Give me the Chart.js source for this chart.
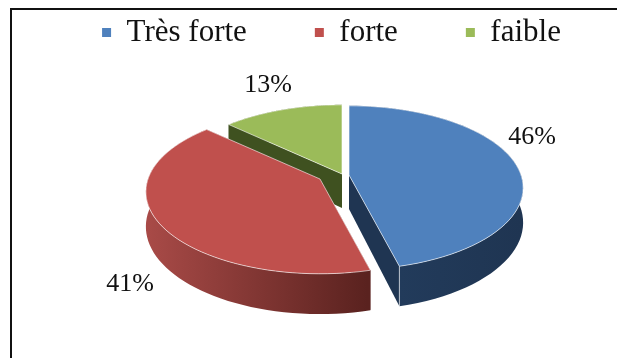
<!DOCTYPE html>
<html>
<head>
<meta charset="utf-8">
<script src="https://cdn.jsdelivr.net/npm/chart.js@4/dist/chart.umd.js"></script>
<style>
html, body { margin: 0; padding: 0; background: #fff; }
#wrap { width: 617px; height: 358px; }
</style>
</head>
<body>
<div id="wrap"><canvas id="camembert" width="617" height="358"></canvas></div>
<script>
var categories = ['Très forte', 'forte', 'faible'];
var valeurs = [46, 41, 13];
var couleurs = ['#4f81bd', '#c0504d', '#9bbb59'];

//Reglages de la vue 3D
var vue = {
    rayon: 172, aplati: 80, fuite: 0.156, epaisseur: 34,
    sommets: [{ x: 349, y: 175 }, { x: 320, y: 179 }, { x: 342, y: 174 }],
    flancs: [['#223b5b', '#1f3552'], ['#a84a47', '#5a221f'], ['#3f5120', '#3f5120']],
    tranches: ['#1f3552', '#5a221f', '#3f5120'],
    ordre: [2, 0, 1],
    etiquettes: [{ x: 532, y: 137 }, { x: 130, y: 284 }, { x: 268, y: 85 }]
};

function projeterBas(s, a) {
    var u = Math.cos(a), v = Math.sin(a);
    var p = 1 / (1 - vue.fuite * v);
    return { x: s.x + vue.rayon * u * p, y: s.y + vue.aplati * v * p + vue.epaisseur * p };
}
function projeterHaut(s, a) {
    var u = Math.cos(a), v = Math.sin(a);
    var p = 1 / (1 - vue.fuite * v);
    return { x: s.x + vue.rayon * u * p, y: s.y + vue.aplati * v * p };
}

function bord(ctx, s, a0, a1, fn) {
    var n = 60;
    for (var i = 0; i <= n; i++) {
        var q = fn(s, a0 + (a1 - a0) * i / n);
        ctx.lineTo(q.x, q.y);
    }
}

var camembert3d = {
    id: 'camembert3d',
    afterLayout: function (chart) {
        //la legende est decalee vers la droite et remontee
        chart.legend.left += 23;
        chart.legend.right += 23;
        chart.legend.top -= 51;
        chart.legend.bottom -= 51;
    },
    beforeDraw: function (chart) {
        var ctx = chart.ctx;
        ctx.save();
        ctx.strokeStyle = '#111';
        ctx.lineWidth = 2;
        ctx.beginPath();
        ctx.moveTo(11, 358);
        ctx.lineTo(11, 9);
        ctx.lineTo(617, 9);
        ctx.stroke();
        ctx.restore();
    },
    beforeDatasetDraw: function (chart) {
        var ctx = chart.ctx;
        var arcs = chart.getDatasetMeta(0).data;
        ctx.save();
        vue.ordre.forEach(function (i) {
            var a0 = arcs[i].startAngle, a1 = arcs[i].endAngle, s = vue.sommets[i];
            var h0 = projeterHaut(s, a0), h1 = projeterHaut(s, a1);
            var b0 = projeterBas(s, a0), b1 = projeterBas(s, a1);

            //faces de coupe
            ctx.fillStyle = vue.tranches[i];
            [[h0, b0], [h1, b1]].forEach(function (f) {
                ctx.beginPath();
                ctx.moveTo(s.x, s.y);
                ctx.lineTo(f[0].x, f[0].y);
                ctx.lineTo(f[1].x, f[1].y);
                ctx.lineTo(s.x, s.y + vue.epaisseur);
                ctx.closePath();
                ctx.fill();
            });

            //flanc exterieur
            var g = ctx.createLinearGradient(s.x - vue.rayon, 0, s.x + 47, 0);
            if (i === 0) {
                g = ctx.createLinearGradient(s.x + 50, 0, s.x + vue.rayon, 0);
            }
            g.addColorStop(0, vue.flancs[i][0]);
            g.addColorStop(1, vue.flancs[i][1]);
            ctx.fillStyle = g;
            ctx.beginPath();
            bord(ctx, s, a0, a1, projeterHaut);
            bord(ctx, s, a1, a0, projeterBas);
            ctx.closePath();
            ctx.fill();

            //face du dessus
            ctx.fillStyle = arcs[i].options.backgroundColor;
            ctx.strokeStyle = 'rgba(255,255,255,0.6)';
            ctx.lineWidth = 1;
            ctx.beginPath();
            ctx.moveTo(s.x, s.y);
            bord(ctx, s, a0, a1, projeterHaut);
            ctx.closePath();
            ctx.fill();
            ctx.stroke();

            if (i === 0) {
                ctx.beginPath();
                ctx.moveTo(h1.x, h1.y);
                ctx.lineTo(b1.x, b1.y);
                ctx.stroke();
            }
        });
        ctx.restore();
        return false;
    },
    afterDatasetsDraw: function (chart) {
        var ctx = chart.ctx;
        ctx.save();
        ctx.font = '26px "Liberation Serif"';
        ctx.fillStyle = '#111';
        ctx.textAlign = 'center';
        ctx.textBaseline = 'middle';
        valeurs.forEach(function (v, i) {
            ctx.fillText(v + '%', vue.etiquettes[i].x, vue.etiquettes[i].y);
        });
        ctx.restore();
    }
};

new Chart(document.getElementById('camembert').getContext('2d'), {
    type: 'pie',
    data: {
        labels: categories,
        datasets: [{
            label: 'Niveau',
            data: valeurs,
            backgroundColor: couleurs,
            borderWidth: 0
        }]
    },
    options: {
        responsive: false,
        animation: false,
        plugins: {
            tooltip: { enabled: false },
            legend: {
                position: 'top',
                labels: {
                    color: '#111',
                    boxWidth: 9,
                    boxHeight: 9,
                    padding: 68,
                    font: { family: '"Liberation Serif"', size: 31 }
                }
            }
        }
    },
    plugins: [camembert3d]
});
</script>
</body>
</html>
